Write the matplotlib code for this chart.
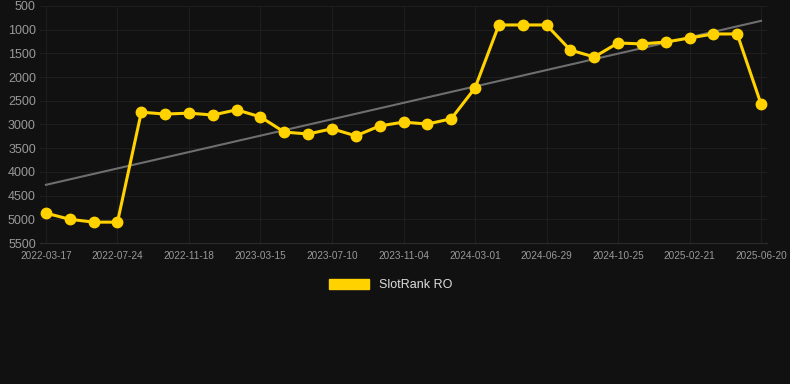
import numpy as np
import matplotlib.pyplot as plt
from matplotlib.patches import Patch

plt.rcParams['font.family'] = ['Liberation Sans', 'DejaVu Sans']

# rank values per point (lower = better)
ranks = [4870, 5000, 5060, 5060, 2740, 2780, 2760, 2800, 2690, 2840,
         3160, 3200, 3090, 3240, 3030, 2950, 2990, 2880, 2230, 900,
         900, 900, 1430, 1575, 1280, 1300, 1260, 1175, 1090, 1090, 2570]
tick_labels = ['2022-03-17', '2022-07-24', '2022-11-18', '2023-03-15', '2023-07-10',
               '2023-11-04', '2024-03-01', '2024-06-29', '2024-10-25', '2025-02-21',
               '2025-06-20']
tick_step = 3
y_ticks = [500, 1000, 1500, 2000, 2500, 3000, 3500, 4000, 4500, 5000, 5500]

bg = '#111111'
gold = '#ffd200'

fig = plt.figure(figsize=(7.9, 3.84), dpi=100, facecolor=bg)
ax = fig.add_axes([40/790, 1 - 243/384, 727/790, 237/384], facecolor=bg)

x = np.arange(len(ranks))
coef = np.polyfit(x, ranks, 1)
ax.plot(x, np.polyval(coef, x), color='#6e6e6e', lw=1.5, zorder=2)
ax.plot(x, ranks, color=gold, lw=2.2, marker='o', ms=7.5, zorder=3)

ax.set_xlim(-0.25, len(ranks) - 0.75)
ax.set_ylim(5500, 500)
ax.set_yticks(y_ticks)
ax.set_xticks(x[::tick_step])
ax.set_xticklabels(tick_labels)
ax.tick_params(axis='y', colors='#999999', labelsize=9, length=0, pad=3)
ax.tick_params(axis='x', colors='#999999', labelsize=7.2, length=0, pad=6)
ax.grid(True, color='#1e1e1e', lw=0.8)
for s in ['top', 'right', 'left']:
    ax.spines[s].set_visible(False)
ax.spines['bottom'].set_color('#2c2c2c')

fig.legend(handles=[Patch(color=gold, label='SlotRank RO')],
           loc='center', bbox_to_anchor=(391/790, 1 - 285/384),
           frameon=False, handlelength=3.2, handleheight=0.9,
           fontsize=9, labelcolor='#dddddd')

fig.savefig('out.png', facecolor=bg)
